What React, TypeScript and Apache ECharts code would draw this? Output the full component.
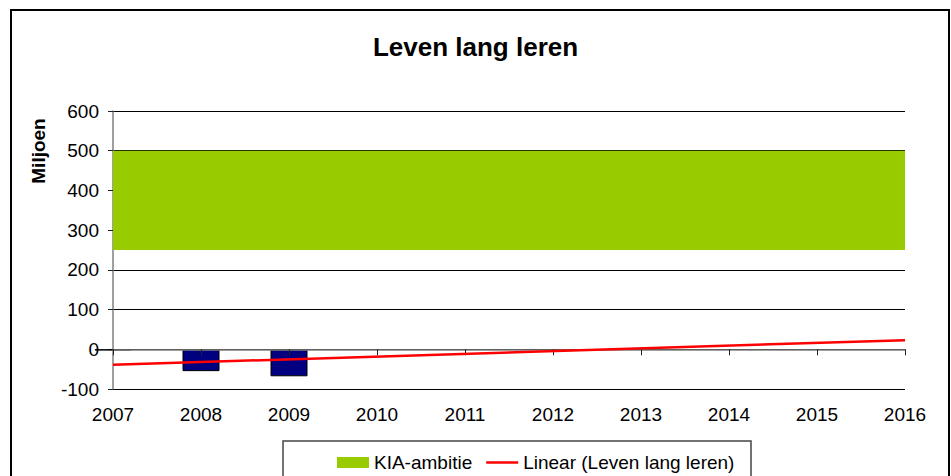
import React, { useEffect, useRef } from "react";
import * as echarts from "echarts";

const years = ["2007", "2008", "2009", "2010", "2011", "2012", "2013", "2014", "2015", "2016"];
const barValues: (number | null)[] = [-3, -55, -68, null, null, null, null, null, null, null];
const trendYears = ["2007", "2016"];
const trendValues = [-39, 23];
const ambitionLow = 250;
const ambitionHigh = 500;
const yTicks = { min: -100, max: 600, interval: 100 };

const FONT = "Liberation Sans, Arial, sans-serif";

const GRID_TOP = 111;
const GRID_BOTTOM = 87;
const CHART_H = 476;

export default function App() {
  const ref = useRef<HTMLDivElement>(null);
  useEffect(() => {
    if (!ref.current) return;
    const chart = echarts.init(ref.current, undefined, { renderer: "svg" });
    const plotH = CHART_H - GRID_TOP - GRID_BOTTOM;
    const zeroOffset = -plotH * (0 - yTicks.min) / (yTicks.max - yTicks.min);
    chart.setOption({
      animation: false,
      backgroundColor: "#ffffff",
      textStyle: { fontFamily: FONT },
      title: {
        text: "Leven lang leren",
        left: "center",
        top: 29,
        textStyle: { fontFamily: FONT, fontSize: 26, fontWeight: "bold", color: "#000" },
      },
      graphic: [
        {
          type: "rect",
          shape: { x: 11, y: 10, width: 938, height: 480 },
          style: { fill: "none", stroke: "#000", lineWidth: 2 },
          silent: true,
          z: -10,
        },
        {
          type: "rect",
          shape: { x: 283, y: 441, width: 468, height: 50 },
          style: { fill: "#fff", stroke: "#444", lineWidth: 1.5 },
          silent: true,
          z: -5,
        },
        {
          type: "text",
          x: 38,
          y: 151,
          rotation: Math.PI / 2,
          style: {
            text: "Miljoen",
            font: `bold 19px ${FONT}`,
            fill: "#000",
            align: "center",
            verticalAlign: "middle",
          },
        },
      ],
      legend: {
        left: 332,
        top: 448,
        itemGap: 14,
        itemWidth: 32,
        itemHeight: 11,
        textStyle: { fontFamily: FONT, fontSize: 19, color: "#000" },
        data: [
          { name: "KIA-ambitie", icon: "rect" },
          {
            name: "Linear (Leven lang leren)",
            icon: "path://M0,0 L32,0 L32,2.5 L0,2.5 Z",
            itemStyle: { color: "#FF0000" },
          },
        ],
        z: 10,
      },
      grid: { left: 113, right: 46, top: GRID_TOP, bottom: GRID_BOTTOM },
      xAxis: [
        {
          type: "category",
          data: years,
          boundaryGap: false,
          position: "bottom",
          axisLine: { show: false },
          axisTick: { show: false },
          splitLine: { show: false },
          axisLabel: { fontFamily: FONT, fontSize: 19, color: "#000", margin: 16 },
        },
        {
          type: "category",
          data: years,
          boundaryGap: false,
          position: "bottom",
          offset: zeroOffset,
          axisLine: { show: true, onZero: false, lineStyle: { color: "#808080", width: 1.5 } },
          axisTick: { show: true, length: 6, lineStyle: { color: "#222", width: 1 } },
          axisLabel: { show: false },
          splitLine: { show: false },
          z: 5,
        },
      ],
      yAxis: {
        type: "value",
        min: yTicks.min,
        max: yTicks.max,
        interval: yTicks.interval,
        axisLine: { show: true, onZero: false, lineStyle: { color: "#808080", width: 1.5 } },
        axisTick: { show: true, length: 5, lineStyle: { color: "#222" } },
        splitLine: { show: true, lineStyle: { color: "#000", width: 1 } },
        axisLabel: { fontFamily: FONT, fontSize: 19, color: "#000", margin: 14 },
      },
      series: [
        {
          name: "KIA-ambitie",
          type: "bar",
          xAxisIndex: 0,
          data: [],
          itemStyle: { color: "#99CC00" },
          markArea: {
            silent: true,
            itemStyle: { color: "#99CC00", opacity: 1 },
            data: [[{ yAxis: ambitionLow }, { yAxis: ambitionHigh }]],
          },
          z: 1,
        },
        {
          name: "Leven lang leren",
          type: "bar",
          xAxisIndex: 0,
          data: barValues,
          barWidth: 37,
          barGap: "-100%",
          itemStyle: { color: "#000080", borderColor: "#000", borderWidth: 1 },
          z: 2,
        },
        {
          name: "Linear (Leven lang leren)",
          type: "line",
          xAxisIndex: 0,
          data: trendYears.map((y, i) => [y, trendValues[i]]),
          symbol: "none",
          lineStyle: { color: "#FF0000", width: 2.5 },
          itemStyle: { color: "#FF0000" },
          z: 6,
        },
      ],
    });
    return () => chart.dispose();
  }, []);
  return (
    <div
      ref={ref}
      style={{ position: "absolute", left: 0, top: 0, width: 951, height: 476 }}
    />
  );
}
